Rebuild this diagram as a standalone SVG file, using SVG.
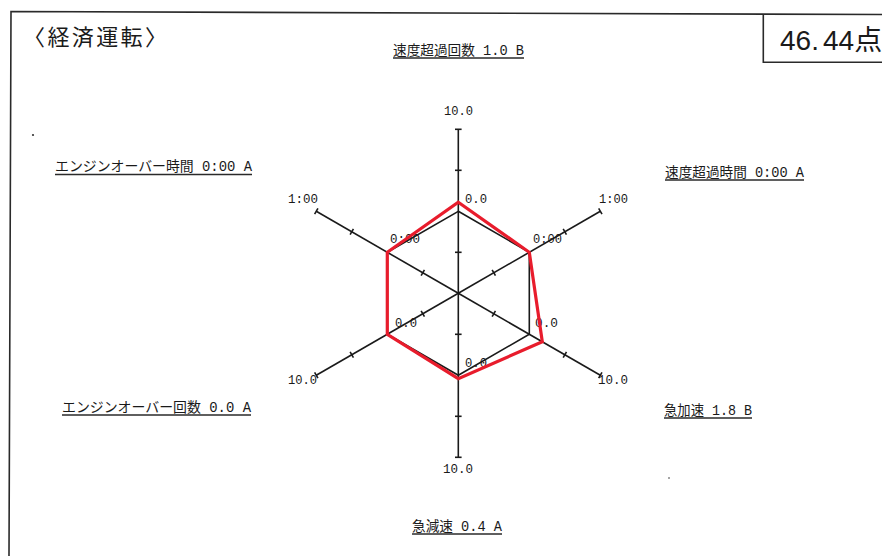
<svg xmlns="http://www.w3.org/2000/svg" width="882" height="556" viewBox="0 0 882 556">
<style>
.frame{fill:none;stroke:#2a2a2a;stroke-width:1.6}
.axis line{stroke:#1a1a1a;stroke-width:1.6}
.hex{fill:none;stroke:#1a1a1a;stroke-width:1.6;stroke-linejoin:miter}
.val{fill:none;stroke:#e81c2c;stroke-width:3.2;stroke-linejoin:miter}
.lbl{font-family:"Liberation Mono","Noto Sans CJK JP",monospace;font-size:14px;fill:#1a1a1a}
.num{font-family:"Liberation Mono","Noto Sans CJK JP",monospace;font-size:12.5px;fill:#1a1a1a}
.ul{stroke:#2a2a2a;stroke-width:1.3}
.title{font-family:"Noto Sans CJK JP","Liberation Serif",sans-serif;font-size:22px;fill:#1a1a1a}
.score{font-family:"Liberation Sans","Noto Sans CJK JP",sans-serif;font-size:28px;fill:#1a1a1a}
</style>
<defs>
<g id="ax" class="axis">
<line x1="458.3" y1="293.3" x2="458.3" y2="129.3"/>
<line x1="455" y1="252.3" x2="461.6" y2="252.3"/>
<line x1="455" y1="170.3" x2="461.6" y2="170.3"/>
<line x1="455" y1="129.3" x2="461.6" y2="129.3"/>
</g>
</defs>
<rect width="882" height="556" fill="#fff"/>

<g id="frame">
<path class="frame" d="M9 556 L11 11.5 L882 14.5"/>
<path class="frame" d="M763.3 14.3 V62.3 H882"/>
</g>

<g id="title"><text class="title" x="23" y="44.5" textLength="144" lengthAdjust="spacing">〈経済運転〉</text></g>
<g id="score"><text class="score" y="50"><tspan x="780">46.</tspan><tspan x="823">44点</tspan></text></g>

<g id="axes">
<use href="#ax"/>
<use href="#ax" transform="rotate(60 458.3 293.3)"/>
<use href="#ax" transform="rotate(120 458.3 293.3)"/>
<use href="#ax" transform="rotate(180 458.3 293.3)"/>
<use href="#ax" transform="rotate(240 458.3 293.3)"/>
<use href="#ax" transform="rotate(300 458.3 293.3)"/>
<polygon class="hex" points="458.3,211.3 529.3,252.3 529.3,334.3 458.3,375.3 387.3,334.3 387.3,252.3"/>
</g>

<g id="scale-labels">
<text class="num" x="444" y="114.5" textLength="29" lengthAdjust="spacingAndGlyphs">10.0</text>
<text class="num" x="465" y="203" textLength="22" lengthAdjust="spacingAndGlyphs">0.0</text>
<text class="num" x="288" y="203" textLength="30" lengthAdjust="spacingAndGlyphs">1:00</text>
<text class="num" x="390" y="243" textLength="30" lengthAdjust="spacingAndGlyphs">0:00</text>
<text class="num" x="599" y="203" textLength="29" lengthAdjust="spacingAndGlyphs">1:00</text>
<text class="num" x="533" y="243" textLength="29" lengthAdjust="spacingAndGlyphs">0:00</text>
<text class="num" x="395" y="327" textLength="22" lengthAdjust="spacingAndGlyphs">0.0</text>
<text class="num" x="535" y="327" textLength="23" lengthAdjust="spacingAndGlyphs">0.0</text>
<text class="num" x="465" y="367" textLength="22" lengthAdjust="spacingAndGlyphs">0.0</text>
<text class="num" x="288" y="384" textLength="29" lengthAdjust="spacingAndGlyphs">10.0</text>
<text class="num" x="598" y="384" textLength="30" lengthAdjust="spacingAndGlyphs">10.0</text>
<text class="num" x="443" y="473" textLength="30" lengthAdjust="spacingAndGlyphs">10.0</text>
</g>

<g id="values">
<polygon class="val" points="458.3,202.3 529.3,252.3 542.3,341.8 458.3,378.6 387.3,334.3 387.3,252.3"/>
</g>

<g id="label-speed-count">
<text class="lbl" x="393" y="55" textLength="131" lengthAdjust="spacingAndGlyphs">速度超過回数 1.0 B</text>
<line class="ul" x1="393" y1="58" x2="524" y2="58"/>
</g>
<g id="label-engine-time">
<text class="lbl" x="55" y="171" textLength="197" lengthAdjust="spacingAndGlyphs">エンジンオーバー時間 0:00 A</text>
<line class="ul" x1="55" y1="174.5" x2="252" y2="174.5"/>
</g>
<g id="label-speed-time">
<text class="lbl" x="665" y="177" textLength="139" lengthAdjust="spacingAndGlyphs">速度超過時間 0:00 A</text>
<line class="ul" x1="665" y1="180" x2="804" y2="180"/>
</g>
<g id="label-engine-count">
<text class="lbl" x="62" y="412" textLength="189" lengthAdjust="spacingAndGlyphs">エンジンオーバー回数 0.0 A</text>
<line class="ul" x1="62" y1="415" x2="251" y2="415"/>
</g>
<g id="label-accel">
<text class="lbl" x="664" y="415" textLength="88" lengthAdjust="spacingAndGlyphs">急加速 1.8 B</text>
<line class="ul" x1="664" y1="418" x2="752" y2="418"/>
</g>
<g id="label-decel">
<text class="lbl" x="412" y="531" textLength="90" lengthAdjust="spacingAndGlyphs">急減速 0.4 A</text>
<line class="ul" x1="412" y1="534" x2="502" y2="534"/>
</g>

<g id="marks" fill="#333">
<circle cx="33" cy="135" r="1.1"/>
<circle cx="669" cy="478" r="0.8"/>
</g>
</svg>
